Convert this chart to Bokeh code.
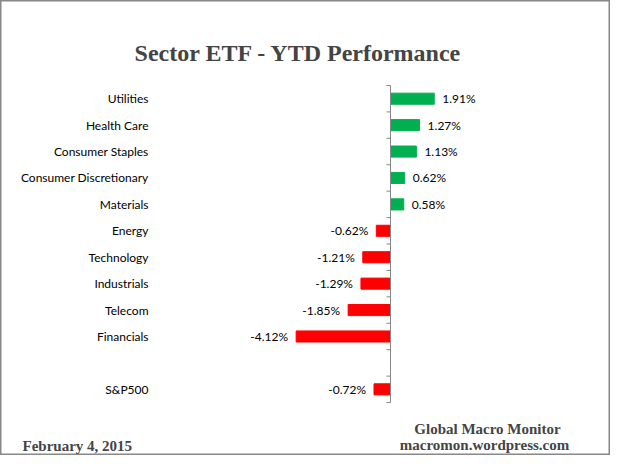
from bokeh.plotting import figure
from bokeh.models import Range1d, ColumnDataSource, Label
from bokeh.core.properties import value
from bokeh.embed import file_html
from bokeh.resources import INLINE

# ---- data ----
sectors = ["Utilities", "Health Care", "Consumer Staples", "Consumer Discretionary",
           "Materials", "Energy", "Technology", "Industrials", "Telecom", "Financials"]
sector_values = [1.91, 1.27, 1.13, 0.62, 0.58, -0.62, -1.21, -1.29, -1.85, -4.12]
benchmark = ["S&P500"]
benchmark_values = [-0.72]

title_text = "Sector ETF - YTD  Performance"
date_text = "February 4,  2015"
source_lines = ["Global Macro Monitor", "macromon.wordpress.com"]

# ---- layout ----
W, H = 610, 455
PX_PCT = 22.9      # pixels per percent
PX_SLOT = 26.42    # pixels per category slot
ZERO_X = 390       # canvas x of zero
TOP_Y = 85         # canvas y of top of first slot

def dx(px):  # canvas x -> data x
    return (px - ZERO_X) / PX_PCT

def dy(py):  # canvas y -> data y
    return (py - TOP_Y) / PX_SLOT

names = sectors + [""] + benchmark
vals = sector_values + [None] + benchmark_values
slots = list(range(len(names)))

bar_names, bar_vals, bar_y, bar_col = [], [], [], []
for n, v, s in zip(names, vals, slots):
    if v is None:
        continue
    bar_names.append(n)
    bar_vals.append(v)
    bar_y.append(s + 0.5)
    bar_col.append("#00B050" if v >= 0 else "#FF0000")

src = ColumnDataSource(dict(
    name=bar_names, val=bar_vals, y=bar_y, color=bar_col,
    zero=[0] * len(bar_vals),
    lbl=["%.2f%%" % v for v in bar_vals],
    align=["left" if v >= 0 else "right" for v in bar_vals],
    off=[8 if v >= 0 else -8 for v in bar_vals],
))

p = figure(width=W, height=H, output_backend="svg", toolbar_location=None,
           x_range=Range1d(dx(0), dx(W)), y_range=Range1d(dy(H), dy(0)),
           min_border=0, x_axis_location=None, y_axis_location=None)
p.grid.visible = False
p.outline_line_color = "#888888"
p.outline_line_width = 2
p.background_fill_color = "white"
p.border_fill_color = "white"

# bars
p.hbar(y="y", left="zero", right="val", height=0.42, color="color", source=src)

# vertical axis at zero with ticks at slot boundaries
n_slots = len(names)
p.segment(x0=[0], y0=[0], x1=[0], y1=[n_slots], line_color="#868686", line_width=1)
p.segment(x0=[-4 / PX_PCT] * (n_slots + 1), y0=list(range(n_slots + 1)),
          x1=[0] * (n_slots + 1), y1=list(range(n_slots + 1)),
          line_color="#868686", line_width=1)

# value labels
p.text(x="val", y="y", text="lbl", x_offset="off", text_align="align",
       text_baseline="middle", text_font=value("Lato"), text_font_size="12px",
       text_color="#000000", source=src)

# category labels
cat_src = ColumnDataSource(dict(
    x=[dx(148)] * len(names), y=[s + 0.5 for s in slots], t=names))
p.text(x="x", y="y", text="t", text_align="right", text_baseline="middle",
       text_font=value("Lato"), text_font_size="12px", text_color="#000000",
       source=cat_src)

# title & footer
p.add_layout(Label(x=dx(301), y=dy(52), text=title_text, text_align="center",
                   text_baseline="alphabetic", text_font="Liberation Serif",
                   text_font_style="bold", text_font_size="24px"))
p.add_layout(Label(x=dx(22), y=dy(445), text=date_text, text_align="left",
                   text_baseline="alphabetic", text_font="Liberation Serif",
                   text_font_style="bold", text_font_size="15px"))
p.add_layout(Label(x=dx(487), y=dy(428), text=source_lines[0], text_align="center",
                   text_baseline="alphabetic", text_font="Liberation Serif",
                   text_font_style="bold", text_font_size="15px"))
p.add_layout(Label(x=dx(484), y=dy(444), text=source_lines[1], text_align="center",
                   text_baseline="alphabetic", text_font="Liberation Serif",
                   text_font_style="bold", text_font_size="15px"))

open("out.html", "w").write(file_html(p, INLINE))
